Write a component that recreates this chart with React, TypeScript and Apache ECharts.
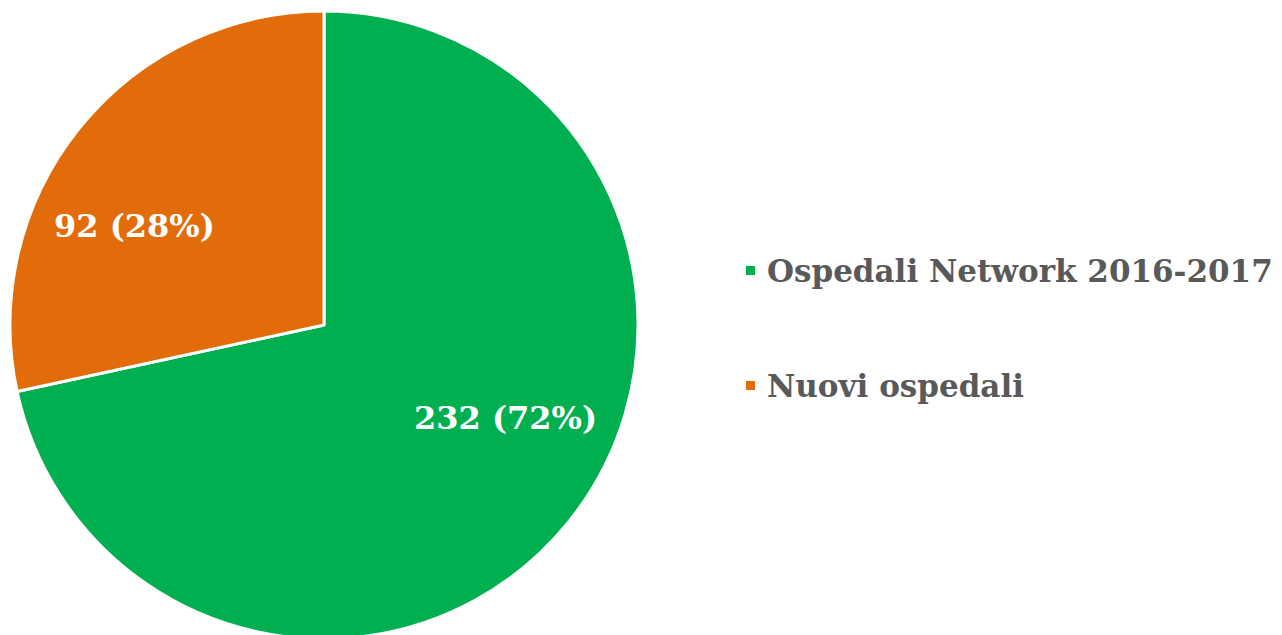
import React, { useEffect, useRef } from "react";
import * as echarts from "echarts";

const categories = ["Ospedali Network 2016-2017", "Nuovi ospedali"];
const values = [232, 92];
const percents = [72, 28];
const colors = ["#00B050", "#E36C0A"];
const labelOffsets = [[57, -7], [-65, 1]];

export default function App() {
  const ref = useRef<HTMLDivElement>(null);
  useEffect(() => {
    document.body.style.margin = "0";
    const chart = echarts.init(ref.current!, null, { renderer: "svg" });
    const font = "'DejaVu Serif', Georgia, serif";
    chart.setOption({
      animation: false,
      legend: {
        orient: "vertical",
        left: 739,
        top: 250,
        itemGap: 84,
        itemWidth: 11,
        itemHeight: 11,
        icon: "rect",
        data: categories,
        textStyle: { color: "#595959", fontFamily: font, fontWeight: "bold", fontSize: 31, padding: [0, 0, 0, 6] },
      },
      series: [
        {
          type: "pie",
          center: [324, 325],
          radius: 314,
          startAngle: 90,
          clockwise: true,
          itemStyle: { borderColor: "#ffffff", borderWidth: 3 },
          label: {
            show: true,
            position: "inside",
            color: "#ffffff",
            fontFamily: font,
            fontWeight: "bold",
            fontSize: 32,
            formatter: (p: any) => `${values[p.dataIndex]} (${percents[p.dataIndex]}%)`,
          },
          labelLine: { show: false },
          emphasis: { disabled: true },
          data: categories.map((c, i) => ({
            name: c,
            value: values[i],
            itemStyle: { color: colors[i] },
            label: { offset: labelOffsets[i] },
          })),
        },
      ],
    });
    return () => chart.dispose();
  }, []);
  return <div ref={ref} style={{ width: 1282, height: 635 }} />;
}
